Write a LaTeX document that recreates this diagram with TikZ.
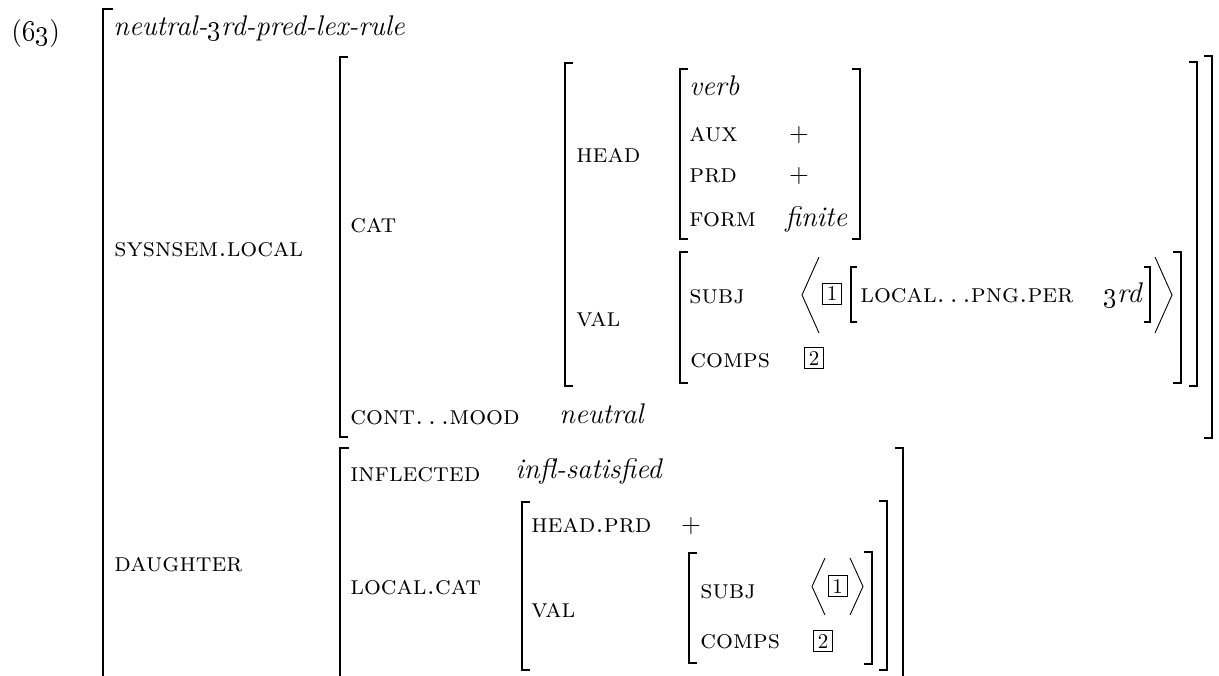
\documentclass[tikz,border=0pt]{standalone}
\usepackage{tikz}
\usetikzlibrary{positioning}

% square brackets of the feature structure
\newcommand{\lbrk}[3]{\draw[brk] (#1+8,#2) -- (#1,#2) -- (#1,#3) -- (#1+8,#3);}
\newcommand{\rbrk}[3]{\draw[brk] (#1-8,#2) -- (#1,#2) -- (#1,#3) -- (#1-8,#3);}

\begin{document}
\begin{tikzpicture}[x=0.5pt,y=-0.5pt,
    attr/.style={anchor=base west,inner sep=0pt,font=\fontsize{13.3}{15}\selectfont\scshape},
    val/.style={anchor=base west,inner sep=0pt,font=\fontsize{14.2}{16}\selectfont\itshape},
    plain/.style={anchor=base,inner sep=0pt,font=\fontsize{13}{15}\selectfont},
    tag/.style={draw,line width=0.4pt,inner sep=0pt,minimum width=9.5pt,minimum height=10.5pt,font=\fontsize{10.5}{12}\selectfont},
    brk/.style={line width=0.8pt},
    ang/.style={line width=0.45pt}]
    \useasboundingbox (0,0) rectangle (1219,675);

    % Example number and type
    \node[anchor=base west,inner sep=0pt,font=\fontsize{14}{16}\selectfont] (num) at (11,40) {(\oldstylenums{63})};
    \draw[brk] (113,9) -- (103,9) -- (103,680);
    \node[val] (type) at (113,35) {neutral-\oldstylenums{3}rd-pred-lex-rule};
    \node[attr] (synsem) at (114,256) {sysnsem.local};
    \node[attr] (daughter) at (114,571) {daughter};

    % SYNSEM value
    \lbrk{340}{57}{437}
    \rbrk{1212}{56}{438}
    \node[attr] (cat) at (350,232) {cat};
    \node[attr] (cont) at (350,424) {cont.\,.\,.mood};
    \node[val] (neutral) at (559,423) {neutral};

    % CAT value
    \lbrk{565}{63}{386}
    \rbrk{1197}{62}{386}
    \node[attr] (head) at (576,162) {head};
    \node[attr] (val) at (576,326) {val};

    % HEAD value
    \lbrk{680}{69}{239}
    \rbrk{860}{69}{239}
    \node[val] (verb) at (689,95) {verb};
    \node[attr] (aux) at (689,141) {aux};
    \node[plain] (auxv) at (799,141) {+};
    \node[attr] (prd) at (689,182) {prd};
    \node[plain] (prdv) at (799,182) {+};
    \node[attr] (form) at (689,226) {form};
    \node[val] (finite) at (785,226) {finite};

    % VAL value
    \lbrk{680}{252}{383}
    \rbrk{1181}{252}{383}
    \node[attr] (subj) at (689,303) {subj};
    \draw[ang] (819,257) -- (802,295) -- (819,333);
    \node[tag] (tagone) at (832,293.5) {1};
    \draw[brk] (857,267) -- (851,267) -- (851,322) -- (857,322);
    \node[attr] (per) at (860,302) {local.\,.\,.png.per};
    \node[val] (third) at (1103,302) {\oldstylenums{3}rd};
    \draw[brk] (1144,267) -- (1150,267) -- (1150,322) -- (1144,322);
    \draw[ang] (1155,257) -- (1172,295) -- (1155,333);
    \node[attr] (comps) at (690,367) {comps};
    \node[tag] (tagtwo) at (814,358) {2};

    % DAUGHTER value
    \draw[brk] (349,448) -- (340,448) -- (340,680);
    \draw[brk] (895,448) -- (903,448) -- (903,680);
    \node[attr] (infl) at (350,481) {inflected};
    \node[val] (inflv) at (515,478) {infl-satisfied};
    \node[attr] (lcat) at (350,594) {local.cat};
    \lbrk{522}{502}{670}
    \rbrk{887}{501}{670}
    \node[attr] (hprd) at (531,532) {head.prd};
    \node[plain] (hprdv) at (691,532) {+};
    \node[attr] (dval) at (531,617) {val};
    \lbrk{689}{553}{663}
    \rbrk{872}{552}{664}
    \node[attr] (dsubj) at (700,598) {subj};
    \draw[ang] (825,558) -- (812,586.5) -- (825,615);
    \node[tag] (dtagone) at (837.5,586) {1};
    \draw[ang] (850,558) -- (863,586.5) -- (850,615);
    \node[attr] (dcomps) at (700,648) {comps};
    \node[tag] (dtagtwo) at (823,641) {2};
\end{tikzpicture}
\end{document}
